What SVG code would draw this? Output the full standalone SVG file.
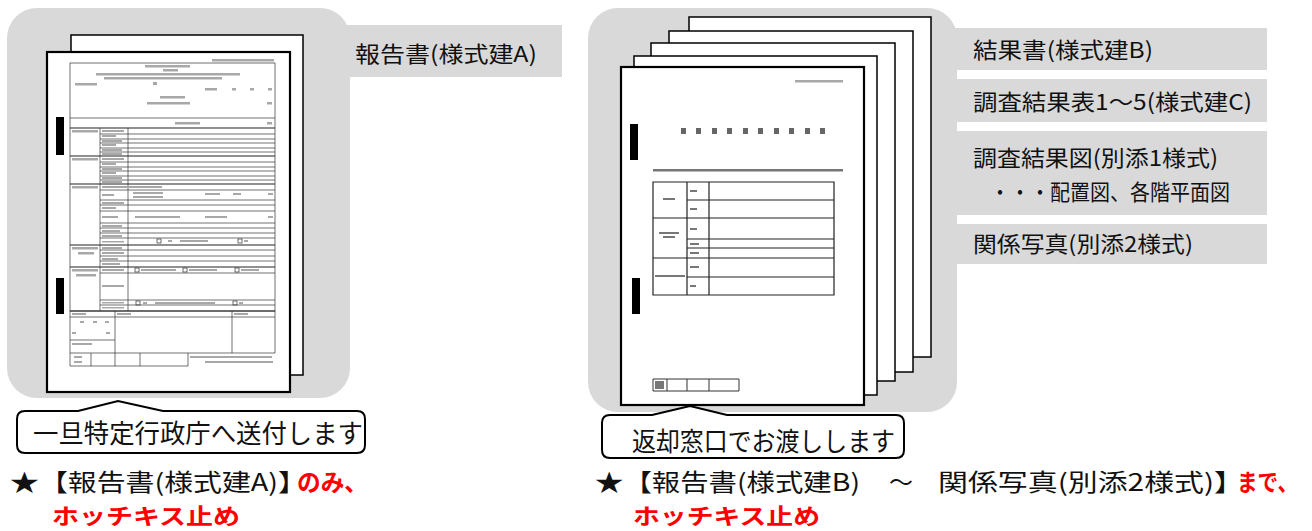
<svg xmlns="http://www.w3.org/2000/svg" width="1312" height="531" viewBox="0 0 1312 531">
<style>
.panel{fill:#d9d9d9}
.page{fill:#fff;stroke:#000;stroke-width:1.5}
.front{fill:#fff;stroke:#000;stroke-width:2.2}
.bind{fill:#000}
.fl{stroke:#333;stroke-width:0.7;fill:none}
.fk{stroke:#222;stroke-width:1.2;fill:none}
.tx{fill:#a8a8a8}
.td{fill:#777}
.lbl{font-family:"Noto Sans CJK JP","Noto Sans",sans-serif;font-size:22px;fill:#111}
.big{font-family:"Noto Sans CJK JP","Noto Sans",sans-serif;fill:#111}
.red{fill:#ff0000;font-weight:bold}
.call{fill:#fff;stroke:#000;stroke-width:2}
</style>

<!-- LEFT PANEL -->
<g id="panel-left">
  <rect class="panel" x="7" y="8" width="343" height="390" rx="30"/>
  <rect class="panel" x="340" y="25" width="222" height="52"/>
  <text class="lbl" x="355" y="62" textLength="182" lengthAdjust="spacingAndGlyphs">報告書(様式建A)</text>
</g>

<g id="doc-a">
  <rect class="page" x="71" y="35" width="232" height="340"/>
  <rect class="front" x="47" y="52" width="243" height="340"/>
  <rect class="bind" x="56" y="117" width="8" height="38"/>
  <rect class="bind" x="56" y="278" width="8" height="36"/>
  <!-- form -->
  <rect class="tx" x="212" y="59" width="62" height="2.5"/>
  <rect class="fl" x="70" y="63" width="205" height="248"/>
  <rect class="tx" x="145" y="65" width="45" height="2.5"/>
  <rect class="tx" x="163" y="69" width="15" height="2.5"/>
  <rect class="tx" x="96" y="73" width="144" height="2.5"/>
  <rect class="tx" x="104" y="77" width="118" height="2.5"/>
  <rect class="tx" x="75" y="83" width="22" height="2.5"/>
  <rect class="tx" x="153" y="82" width="4" height="3"/>
  <rect class="tx" x="205" y="88" width="12" height="2.5"/>
  <rect class="tx" x="232" y="88" width="4" height="2.5"/>
  <rect class="tx" x="250" y="88" width="4" height="2.5"/>
  <rect class="tx" x="268" y="88" width="4" height="2.5"/>
  <rect class="tx" x="160" y="96" width="25" height="2.5"/>
  <rect class="tx" x="147" y="102" width="43" height="2.5"/>
  <rect class="tx" x="267" y="102" width="5" height="2.5"/>
  <line class="fl" x1="70" y1="118" x2="275" y2="118"/>
  <rect class="tx" x="175" y="122" width="25" height="2.5"/>
  <rect class="tx" x="267" y="122" width="5" height="2.5"/>
  <line class="fk" x1="70" y1="128" x2="275" y2="128"/>
  <line class="fl" x1="100" y1="128" x2="100" y2="311"/>
  <line class="fl" x1="128" y1="128" x2="128" y2="311"/>
  <path class="fl" d="M100 134H275M100 139H275M100 143H275M100 148H275M100 152H275"/>
  <line class="fk" x1="70" y1="156" x2="275" y2="156"/>
  <path class="fl" d="M100 162H275M100 167H275M100 171H275M100 176H275M100 180H275"/>
  <line class="fk" x1="70" y1="184" x2="275" y2="184"/>
  <path class="fl" d="M100 190H275M100 200H275M100 205H275M100 211H275M100 223H275M100 228H275M100 233H275M100 238H275"/>
  <line class="fk" x1="70" y1="245" x2="275" y2="245"/>
  <path class="fl" d="M100 250H275M100 256H275M100 261H275"/>
  <line class="fk" x1="70" y1="267" x2="275" y2="267"/>
  <path class="fl" d="M100 273H275M100 300H275M100 305H275"/>
  <line class="fk" x1="70" y1="311" x2="275" y2="311"/>
  <rect class="tx" x="72" y="130" width="26" height="2.5"/>
  <rect class="tx" x="72" y="158" width="26" height="2.5"/>
  <rect class="tx" x="72" y="186" width="26" height="2.5"/>
  <rect class="tx" x="72" y="247" width="26" height="2.5"/>
  <rect class="tx" x="78" y="252" width="16" height="2.5"/>
  <rect class="tx" x="72" y="269" width="26" height="2.5"/>
  <rect class="tx" x="76" y="274" width="20" height="2.5"/>
  <g class="tx">
    <rect x="102" y="130" width="22" height="2"/><rect x="102" y="135" width="14" height="2"/><rect x="102" y="140" width="20" height="2"/><rect x="102" y="144" width="14" height="2"/><rect x="102" y="149" width="20" height="2"/><rect x="102" y="153" width="20" height="2"/>
    <rect x="102" y="158" width="22" height="2"/><rect x="102" y="163" width="14" height="2"/><rect x="102" y="168" width="20" height="2"/><rect x="102" y="172" width="14" height="2"/><rect x="102" y="177" width="20" height="2"/><rect x="102" y="181" width="20" height="2"/>
    <rect x="102" y="186" width="60" height="2"/><rect x="102" y="194" width="12" height="2"/><rect x="133" y="192" width="30" height="2"/><rect x="133" y="196" width="30" height="2"/><rect x="205" y="193" width="15" height="2"/><rect x="233" y="193" width="8" height="2"/><rect x="268" y="193" width="5" height="2"/>
    <rect x="102" y="202" width="22" height="2"/><rect x="102" y="207" width="14" height="2"/><rect x="102" y="216" width="16" height="2"/><rect x="135" y="216" width="45" height="2"/><rect x="205" y="216" width="22" height="2"/><rect x="268" y="216" width="5" height="2"/>
    <rect x="102" y="225" width="20" height="2"/><rect x="102" y="230" width="18" height="2"/><rect x="102" y="235" width="20" height="2"/><rect x="102" y="241" width="22" height="1.5"/>
    <rect x="102" y="247" width="20" height="2"/><rect x="102" y="252" width="22" height="2"/><rect x="102" y="258" width="16" height="2"/><rect x="102" y="263" width="18" height="2"/>
    <rect x="102" y="269" width="22" height="2"/><rect x="102" y="285" width="22" height="2"/><rect x="102" y="302" width="22" height="1.5"/><rect x="102" y="307" width="22" height="1.5"/>
    <rect x="168" y="240" width="4" height="2"/><rect x="180" y="240" width="28" height="2"/><rect x="244" y="240" width="4" height="2"/>
    <rect x="141" y="269" width="35" height="2"/><rect x="189" y="269" width="28" height="2"/><rect x="241" y="269" width="18" height="2"/>
    <rect x="143" y="302" width="4" height="2"/><rect x="155" y="302" width="60" height="2"/><rect x="239" y="302" width="4" height="2"/>
  </g>
  <g class="fl">
    <rect x="157" y="239" width="4" height="4"/><rect x="238" y="239" width="4" height="4"/>
    <rect x="135" y="268" width="4" height="4"/><rect x="183" y="268" width="4" height="4"/><rect x="235" y="268" width="4" height="4"/>
    <rect x="136" y="301" width="4" height="4"/><rect x="233" y="301" width="4" height="4"/>
  </g>
  <path class="fl" d="M70 311V353H275V311M70 317H275M115 311V366M232 311V353M70 340H115M70 353V366H188V353M91 353V366M140 353V366"/>
  <g class="tx">
    <rect x="72" y="313" width="14" height="2"/><rect x="117" y="313" width="14" height="2"/><rect x="234" y="313" width="14" height="2"/>
    <rect x="80" y="321" width="4" height="2"/><rect x="93" y="321" width="4" height="2"/><rect x="105" y="321" width="4" height="2"/>
    <rect x="72" y="332" width="4" height="2"/><rect x="106" y="332" width="4" height="2"/><rect x="72" y="343" width="20" height="2"/>
    <rect x="74" y="356" width="8" height="2"/><rect x="74" y="361" width="8" height="2"/>
    <rect x="190" y="356" width="82" height="2"/><rect x="205" y="361" width="68" height="2"/>
  </g>
</g>

<!-- RIGHT PANEL -->
<g id="panel-right">
  <rect class="panel" x="588" y="8" width="369" height="404" rx="30"/>
</g>

<g id="tabs-right">
  <rect class="panel" x="955" y="28" width="312" height="42"/>
  <rect class="panel" x="955" y="79" width="312" height="43"/>
  <rect class="panel" x="955" y="131" width="312" height="84"/>
  <rect class="panel" x="955" y="224" width="312" height="40"/>
  <text class="lbl" x="973" y="58" textLength="180" lengthAdjust="spacingAndGlyphs">結果書(様式建B)</text>
  <text class="lbl" x="973" y="110" textLength="279" lengthAdjust="spacingAndGlyphs">調査結果表1～5(様式建C)</text>
  <text class="lbl" x="973" y="166" textLength="245" lengthAdjust="spacingAndGlyphs">調査結果図(別添1様式)</text>
  <text class="lbl" x="990" y="200" textLength="240" lengthAdjust="spacingAndGlyphs">・・・配置図、各階平面図</text>
  <text class="lbl" x="973" y="252" textLength="220" lengthAdjust="spacingAndGlyphs">関係写真(別添2様式)</text>
</g>

<g id="doc-b">
  <rect class="page" x="689" y="17" width="242" height="340"/>
  <rect class="page" x="669" y="31" width="244" height="341"/>
  <rect class="page" x="651" y="43" width="244" height="338"/>
  <rect class="page" x="634" y="56" width="243" height="339"/>
  <rect class="front" x="621" y="67" width="243" height="338"/>
  <rect class="bind" x="630" y="124" width="8" height="36"/>
  <rect class="bind" x="632" y="278" width="8" height="36"/>
  <rect class="tx" x="795" y="80" width="48" height="2.5"/>
  <g fill="#666">
    <rect x="681" y="128" width="5" height="6"/><rect x="696" y="128" width="5" height="6"/><rect x="712" y="128" width="5" height="6"/><rect x="727" y="128" width="5" height="6"/><rect x="743" y="128" width="5" height="6"/><rect x="758" y="128" width="5" height="6"/><rect x="774" y="128" width="5" height="6"/><rect x="789" y="128" width="5" height="6"/><rect x="805" y="128" width="5" height="6"/><rect x="820" y="128" width="5" height="6"/>
  </g>
  <rect class="td" x="653" y="169" width="190" height="2.5"/>
  <path class="fk" d="M653 182H834V295H653ZM687 182V295M709 182V295M687 200H834M653 218H834M687 239H834M687 248H834M653 258H834M687 277H834"/>
  <g class="td">
    <rect x="663" y="198" width="12" height="2"/>
    <rect x="690" y="190" width="7" height="2"/><rect x="690" y="208" width="7" height="2"/>
    <rect x="659" y="232" width="20" height="2"/><rect x="663" y="236" width="12" height="2"/>
    <rect x="690" y="228" width="7" height="2"/><rect x="690" y="243" width="9" height="2"/><rect x="690" y="252" width="9" height="2"/>
    <rect x="655" y="275" width="30" height="2"/>
    <rect x="690" y="266" width="9" height="2"/><rect x="690" y="285" width="6" height="2"/>
  </g>
  <path class="fl" d="M653 379H739V391H653ZM667 379V391M687 379V391M709 379V391" style="stroke-width:1"/>
  <rect x="655" y="381" width="9" height="8" fill="#777"/>
</g>

<!-- CALLOUTS -->
<g id="callout-left">
  <path class="call" d="M25 411H78L118 401L163 411H357Q365 411 365 419V445Q365 453 357 453H25Q17 453 17 445V419Q17 411 25 411Z"/>
  <text class="big" x="33" y="443" font-size="26" textLength="330" lengthAdjust="spacingAndGlyphs">一旦特定行政庁へ送付します</text>
</g>
<g id="callout-right">
  <path class="call" d="M610 415H652L690 406L727 415H896Q904 415 904 423V450Q904 458 896 458H610Q602 458 602 450V423Q602 415 610 415Z"/>
  <text class="big" x="632" y="451" font-size="26" textLength="263" lengthAdjust="spacingAndGlyphs">返却窓口でお渡しします</text>
</g>

<!-- NOTES -->
<g id="note-left">
  <text class="big" x="10" y="491" font-size="24" textLength="297" lengthAdjust="spacingAndGlyphs">★【報告書(様式建A)】</text>
  <text class="big red" x="297" y="491" font-size="24" textLength="71" lengthAdjust="spacingAndGlyphs">のみ、</text>
  <text class="big red" x="52" y="524" font-size="22" textLength="188" lengthAdjust="spacingAndGlyphs">ホッチキス止め</text>
</g>
<g id="note-right">
  <text class="big" x="595" y="491" font-size="24" textLength="265" lengthAdjust="spacingAndGlyphs">★【報告書(様式建B)</text>
  <text class="big" x="889" y="491" font-size="24">～</text>
  <text class="big" x="938" y="491" font-size="24" textLength="306" lengthAdjust="spacingAndGlyphs">関係写真(別添2様式)】</text>
  <text class="big red" x="1237" y="491" font-size="24" textLength="61" lengthAdjust="spacingAndGlyphs">まで、</text>
  <text class="big red" x="633" y="524" font-size="22" textLength="187" lengthAdjust="spacingAndGlyphs">ホッチキス止め</text>
</g>
</svg>
